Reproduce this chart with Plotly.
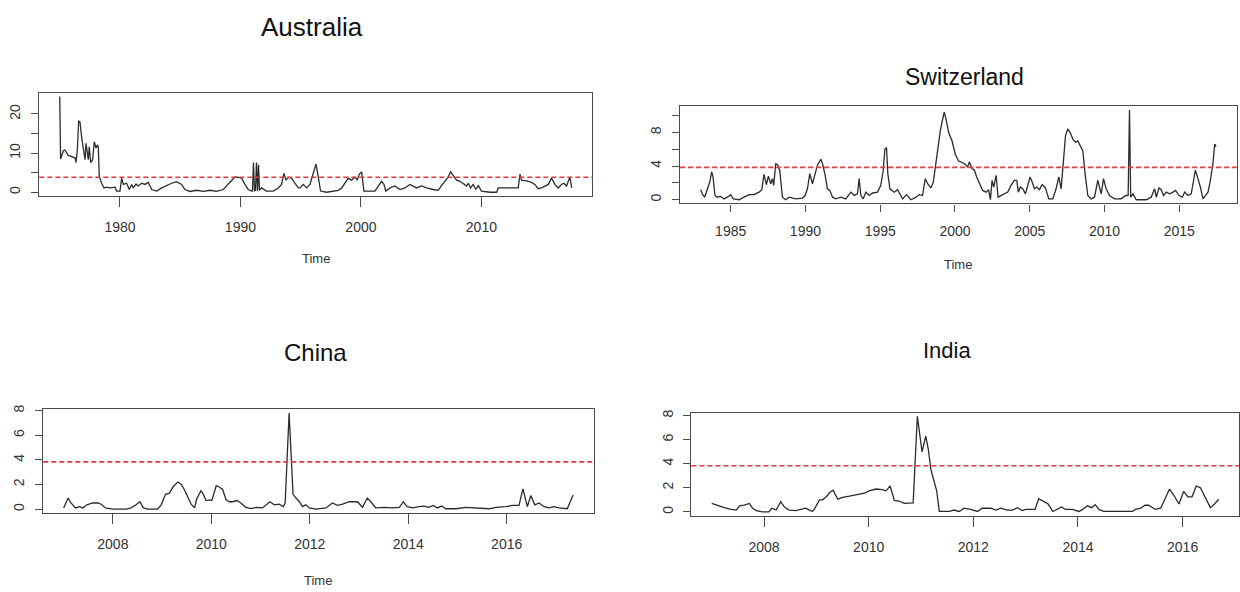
import plotly.graph_objects as go

threshold = 3.84

aus_t = [1975.0,1975.07,1975.3,1975.43,1975.71,1975.99,1976.27,1976.35,1976.46,1976.57,
         1976.68,1976.82,1976.96,1977.1,1977.18,1977.29,1977.37,1977.45,1977.57,1977.73,
         1977.87,1978.01,1978.12,1978.2,1978.28,1978.48,1978.67,1978.89,1979.17,1979.59,
         1979.72,1980.0,1980.14,1980.28,1980.55,1980.77,1980.97,1981.11,1981.33,1981.52,
         1981.8,1982.07,1982.35,1982.63,1983.04,1983.46,1983.87,1984.29,1984.7,1985.12,
         1985.39,1985.81,1986.36,1986.92,1987.47,1988.02,1988.58,1988.99,1989.27,1989.54,
         1989.82,1990.1,1990.37,1990.65,1990.93,1991.0,1991.08,1991.17,1991.25,1991.33,
         1991.42,1991.5,1991.58,1991.75,1992.17,1992.72,1993.14,1993.41,1993.61,1993.78,
         1993.97,1994.25,1994.52,1994.8,1994.94,1995.21,1995.49,1995.77,1996.04,1996.27,
         1996.46,1996.65,1997.15,1997.7,1998.12,1998.4,1998.67,1998.95,1999.23,1999.5,
         1999.7,1999.86,2000.06,2000.25,2001.16,2001.52,2001.71,2001.91,2002.07,2002.41,
         2002.82,2003.24,2003.65,2004.07,2004.34,2004.62,2005.03,2005.45,2006.0,2006.42,
         2006.69,2006.97,2007.25,2007.44,2007.66,2007.94,2008.22,2008.49,2008.77,2008.91,
         2009.1,2009.32,2009.54,2009.74,2010.01,2010.71,2011.26,2011.4,2013.06,2013.2,
         2013.33,2013.75,2014.16,2014.44,2014.72,2014.99,2015.35,2015.55,2015.82,2016.1,
         2016.38,2016.65,2016.85,2017.07,2017.34,2017.5]
aus_v = [24.5,8.5,10.6,10.8,9.4,9.0,8.8,7.6,10.8,18.2,
         18.0,14.0,11.6,8.3,12.5,9.2,8.3,11.6,7.6,8.3,
         12.9,11.3,12.1,11.6,4.0,2.3,1.1,1.3,1.1,1.3,
         0.3,0.3,3.6,2.0,2.3,0.7,2.0,1.1,2.1,1.6,
         2.3,2.0,2.5,0.7,0.3,1.1,1.7,2.3,2.7,2.0,
         0.7,0.2,0.5,0.2,0.5,0.2,0.7,2.0,3.1,3.9,
         3.8,3.6,2.0,0.7,0.3,0.3,7.6,0.4,0.5,7.6,
         0.3,7.0,0.5,1.1,0.3,0.3,1.1,2.0,4.8,3.1,
         3.8,3.6,2.3,1.1,1.1,2.0,1.1,2.0,4.8,7.2,
         3.9,0.3,0.0,0.3,0.5,1.1,2.3,3.6,3.1,3.9,
         3.1,4.6,5.2,0.3,0.3,2.0,2.8,2.0,0.3,1.1,
         1.6,0.7,1.1,2.0,1.6,1.1,1.6,1.1,0.7,0.5,
         1.7,2.8,3.9,5.2,4.3,3.1,2.8,2.3,1.6,2.3,
         1.1,2.0,0.7,1.7,0.3,0.0,0.0,1.1,1.1,4.6,
         3.1,2.9,2.5,2.0,0.9,1.1,1.7,2.0,3.6,2.0,
         1.1,2.0,2.3,1.6,3.9,1.1]

sw_t = [1983.0,1983.1,1983.26,1983.44,1983.6,1983.73,1983.82,1983.95,1984.1,1984.33,
        1984.55,1984.78,1985.0,1985.18,1985.56,1985.89,1986.23,1986.56,1986.9,1987.08,
        1987.23,1987.39,1987.52,1987.68,1987.79,1987.88,1988.01,1988.15,1988.28,1988.46,
        1988.68,1988.91,1989.35,1989.8,1989.98,1990.13,1990.29,1990.47,1990.65,1990.8,
        1991.03,1991.14,1991.32,1991.47,1991.63,1991.81,1992.03,1992.37,1992.7,1993.04,
        1993.26,1993.48,1993.59,1993.71,1993.86,1994.04,1994.26,1994.49,1994.82,1995.04,
        1995.2,1995.31,1995.42,1995.51,1995.65,1995.94,1996.16,1996.5,1996.76,1997.05,
        1997.39,1997.61,1997.83,1998.01,1998.17,1998.39,1998.55,1998.73,1998.9,1999.02,
        1999.13,1999.28,1999.4,1999.57,1999.8,2000.02,2000.24,2000.4,2000.62,2000.85,
        2000.96,2001.14,2001.3,2001.45,2001.63,2001.85,2002.08,2002.25,2002.37,2002.48,
        2002.59,2002.75,2002.88,2003.08,2003.3,2003.53,2003.75,2003.97,2004.13,2004.24,
        2004.37,2004.53,2004.71,2004.87,2005.02,2005.16,2005.31,2005.47,2005.65,2005.83,
        2006.05,2006.27,2006.54,2006.76,2006.94,2007.1,2007.21,2007.39,2007.54,2007.7,
        2007.88,2008.06,2008.21,2008.44,2008.55,2008.7,2008.88,2009.11,2009.33,2009.55,
        2009.66,2009.78,2009.93,2010.11,2010.33,2010.67,2011.12,2011.41,2011.58,2011.67,
        2011.75,2011.9,2012.12,2012.79,2013.12,2013.35,2013.46,2013.64,2013.79,2013.95,
        2014.13,2014.35,2014.58,2014.75,2014.98,2015.2,2015.36,2015.58,2015.8,2015.91,
        2016.07,2016.25,2016.41,2016.58,2016.76,2016.92,2017.08,2017.25,2017.37,2017.46]
sw_v = [1.2,0.7,0.3,1.3,2.1,3.3,2.7,0.5,0.3,0.4,
        0.1,0.3,0.6,0.1,0.0,0.3,0.6,0.6,0.9,1.2,
        3.0,1.8,2.8,1.9,2.5,1.7,4.3,4.1,3.5,0.3,
        0.0,0.3,0.1,0.2,0.5,1.3,3.1,1.9,3.1,4.1,
        4.8,4.3,2.9,1.3,1.1,0.3,0.1,0.3,0.1,0.9,
        0.5,0.7,2.5,0.5,0.1,0.9,0.5,0.8,0.9,1.7,
        3.5,6.0,6.2,3.1,1.3,0.9,1.2,0.1,0.6,0.0,
        0.3,0.6,0.5,2.5,1.9,1.4,2.1,4.6,7.0,8.2,
        9.2,10.4,9.6,8.0,7.0,5.4,4.6,4.5,4.3,3.9,
        4.5,3.7,3.5,2.7,1.9,1.1,0.9,1.2,0.0,2.3,
        1.5,2.9,0.3,0.5,0.7,0.9,1.7,2.3,2.3,0.9,
        1.5,1.3,0.7,1.7,2.7,2.1,1.3,1.5,1.2,1.8,
        1.4,0.1,0.1,1.3,2.7,1.3,4.1,7.6,8.4,8.0,
        7.2,6.8,7.0,6.2,5.8,3.1,0.5,0.1,0.3,2.3,
        1.5,0.7,2.5,1.3,0.5,0.1,0.1,0.5,0.5,10.65,
        0.3,0.7,0.0,0.0,0.3,1.3,0.3,1.4,1.2,0.5,
        0.9,0.7,0.9,1.1,0.5,0.3,0.9,0.5,0.7,1.9,
        3.5,2.5,1.5,0.1,0.5,0.9,2.3,4.3,6.6,6.3]

cn_t = [2007.0,2007.09,2007.15,2007.24,2007.32,2007.39,2007.47,2007.59,2007.7,2007.76,
        2007.85,2008.0,2008.27,2008.37,2008.47,2008.55,2008.62,2008.71,2008.91,2008.98,
        2009.07,2009.15,2009.22,2009.32,2009.39,2009.45,2009.52,2009.59,2009.66,2009.7,
        2009.79,2009.84,2009.89,2009.96,2010.01,2010.1,2010.16,2010.23,2010.3,2010.37,
        2010.43,2010.52,2010.6,2010.7,2010.81,2010.91,2011.04,2011.11,2011.19,2011.28,
        2011.38,2011.46,2011.5,2011.58,2011.66,2011.72,2011.79,2011.85,2011.92,2011.99,
        2012.13,2012.33,2012.46,2012.56,2012.67,2012.8,2012.97,2013.07,2013.17,2013.24,
        2013.34,2013.51,2013.68,2013.82,2013.9,2013.98,2014.09,2014.22,2014.32,2014.42,
        2014.51,2014.59,2014.68,2014.76,2014.97,2015.17,2015.37,2015.64,2015.78,2015.98,
        2016.11,2016.25,2016.33,2016.42,2016.49,2016.57,2016.66,2016.76,2016.86,2016.96,
        2017.06,2017.23,2017.35]
cn_v = [0.1,0.9,0.5,0.1,0.2,0.1,0.35,0.5,0.5,0.4,
        0.1,0.0,0.0,0.1,0.35,0.6,0.1,0.0,0.0,0.35,
        1.2,1.3,1.8,2.2,2.0,1.6,1.0,0.4,0.1,0.8,
        1.5,1.2,0.7,0.75,0.7,1.9,1.8,1.6,0.75,0.6,
        0.6,0.7,0.5,0.15,0.05,0.15,0.1,0.35,0.6,0.35,
        0.4,0.2,0.5,7.8,1.2,0.9,0.6,0.2,0.35,0.1,
        0.0,0.1,0.5,0.3,0.4,0.6,0.6,0.15,0.9,0.6,
        0.1,0.15,0.1,0.15,0.6,0.2,0.1,0.2,0.25,0.15,
        0.3,0.1,0.25,0.03,0.03,0.15,0.1,0.03,0.15,0.2,
        0.3,0.3,1.65,0.2,1.1,0.35,0.5,0.2,0.1,0.2,
        0.1,0.03,1.15]

in_t = [2007.0,2007.12,2007.24,2007.37,2007.47,2007.53,2007.62,2007.72,2007.78,2007.85,
        2007.97,2008.09,2008.15,2008.23,2008.32,2008.39,2008.48,2008.61,2008.71,2008.79,
        2008.87,2008.92,2008.96,2009.06,2009.12,2009.2,2009.25,2009.32,2009.41,2009.5,
        2009.63,2009.76,2009.85,2009.95,2010.01,2010.14,2010.26,2010.33,2010.41,2010.49,
        2010.58,2010.68,2010.81,2010.85,2010.93,2011.02,2011.09,2011.14,2011.19,2011.25,
        2011.3,2011.35,2011.54,2011.63,2011.73,2011.82,2011.95,2012.08,2012.17,2012.33,
        2012.43,2012.52,2012.65,2012.75,2012.84,2012.94,2013.0,2013.18,2013.25,2013.35,
        2013.43,2013.52,2013.6,2013.69,2013.76,2013.89,2014.02,2014.09,2014.18,2014.26,
        2014.33,2014.4,2014.49,2014.72,2015.04,2015.1,2015.2,2015.28,2015.35,2015.48,
        2015.58,2015.66,2015.75,2015.83,2015.93,2016.02,2016.1,2016.18,2016.26,2016.34,
        2016.42,2016.53,2016.61,2016.69]
in_v = [0.7,0.5,0.35,0.2,0.15,0.5,0.55,0.7,0.3,0.1,
        0.0,0.0,0.3,0.15,0.85,0.4,0.15,0.1,0.2,0.3,
        0.15,0.03,0.2,1.0,1.0,1.3,1.6,1.8,1.05,1.2,
        1.3,1.45,1.5,1.6,1.75,1.9,1.85,1.75,2.15,0.95,
        0.9,0.7,0.7,0.75,7.95,5.0,6.3,5.2,3.5,2.55,
        1.75,0.03,0.03,0.15,0.03,0.3,0.2,0.03,0.3,0.3,
        0.15,0.3,0.15,0.15,0.35,0.1,0.2,0.2,1.1,0.85,
        0.65,0.03,0.2,0.4,0.2,0.2,0.03,0.2,0.5,0.35,
        0.6,0.2,0.03,0.03,0.03,0.2,0.3,0.55,0.55,0.2,
        0.3,1.05,1.9,1.4,0.65,1.7,1.25,1.25,2.15,2.0,
        1.3,0.35,0.65,1.05]

aus_xticks = [1980, 1990, 2000, 2010]
aus_yticks = [0, 5, 10, 15, 20]
aus_ylabels = ["0", "", "10", "", "20"]
sw_xticks = [1985, 1990, 1995, 2000, 2005, 2010, 2015]
sw_yticks = [0, 2, 4, 6, 8, 10]
sw_ylabels = ["0", "", "4", "", "8", ""]
cn_xticks = [2008, 2010, 2012, 2014, 2016]
cn_yticks = [0, 2, 4, 6, 8]
cn_ylabels = ["0", "2", "4", "6", "8"]
in_xticks = [2008, 2010, 2012, 2014, 2016]
in_yticks = [0, 2, 4, 6, 8]
in_ylabels = ["0", "2", "4", "6", "8"]

W, H = 1240, 592
FONT = "Liberation Sans, Arial, sans-serif"


def pad(vals, frac=0.04):
    lo, hi = min(vals), max(vals)
    p = (hi - lo) * frac
    return [lo - p, hi + p]


panels = [
    # name, t, v, xticks, yticks, ylabels, box(left, top, right, bottom), title pos, title size, time label pos, xticklen
    ("Australia", aus_t, aus_v, aus_xticks, aus_yticks, aus_ylabels, (39.3, 88.3, 592.7, 192.7), (312, 22), 26, (316, 256), 10),
    ("Switzerland", sw_t, sw_v, sw_xticks, sw_yticks, sw_ylabels, (680.7, 102.3, 1237.7, 200), (965, 73), 23, (959, 262), 7),
    ("China", cn_t, cn_v, cn_xticks, cn_yticks, cn_ylabels, (43.3, 407.7, 594, 512.3), (316, 350), 24, (318, 580), 10),
    ("India", in_t, in_v, in_xticks, in_yticks, in_ylabels, (692, 411, 1240, 515), (948, 348), 22, None, 10),
]

fig = go.Figure()
annotations = []
shapes = []
layout = {}

for i, (name, t, v, xt, yt, yl, box, tpos, tsize, timepos, xtl) in enumerate(panels):
    k = "" if i == 0 else str(i + 1)
    left, top, right, bottom = box
    fig.add_trace(go.Scatter(x=t, y=v, mode="lines", xaxis="x" + k, yaxis="y" + k,
                             line=dict(color="#2b2b2b", width=1.3), showlegend=False,
                             hoverinfo="skip"))
    layout["xaxis" + k] = dict(
        domain=[left / W, min(right / W, 1.0)], range=pad(t), anchor="y" + k,
        tickvals=xt, ticktext=[str(x) for x in xt],
        showline=True, mirror=True, linecolor="#4a4a4a", linewidth=1.4,
        ticks="outside", ticklen=xtl, tickcolor="#4a4a4a", tickwidth=1.2,
        showgrid=False, zeroline=False, ticklabelstandoff=8,
        tickfont=dict(family=FONT, size=14, color="#333333"), fixedrange=True)
    layout["yaxis" + k] = dict(
        domain=[1 - bottom / H, 1 - top / H], range=pad(v), anchor="x" + k,
        tickvals=yt, ticktext=yl, tickangle=-90,
        showline=True, mirror=True, linecolor="#4a4a4a", linewidth=1.4,
        ticks="outside", ticklen=7, tickcolor="#4a4a4a", tickwidth=1.2,
        showgrid=False, zeroline=False, ticklabelstandoff=5,
        tickfont=dict(family=FONT, size=14, color="#333333"), fixedrange=True)
    shapes.append(dict(type="line", xref="x" + k + " domain", yref="y" + k,
                       x0=0, x1=1, y0=threshold, y1=threshold,
                       line=dict(color="#e23b3b", width=1.6, dash="5px,3px")))
    annotations.append(dict(text=name, x=tpos[0] / W, y=1 - tpos[1] / H, xref="paper", yref="paper",
                            showarrow=False, xanchor="center", yanchor="middle",
                            font=dict(family=FONT, size=tsize, color="#111111")))
    if timepos is not None:
        annotations.append(dict(text="Time", x=timepos[0] / W, y=1 - timepos[1] / H,
                                xref="paper", yref="paper", showarrow=False,
                                xanchor="center", yanchor="middle",
                                font=dict(family=FONT, size=13, color="#333333")))

fig.update_layout(width=W, height=H, margin=dict(l=0, r=0, t=0, b=0),
                  paper_bgcolor="white", plot_bgcolor="white",
                  annotations=annotations, shapes=shapes, **layout)

fig.write_html("out.html", config={"displayModeBar": False})
